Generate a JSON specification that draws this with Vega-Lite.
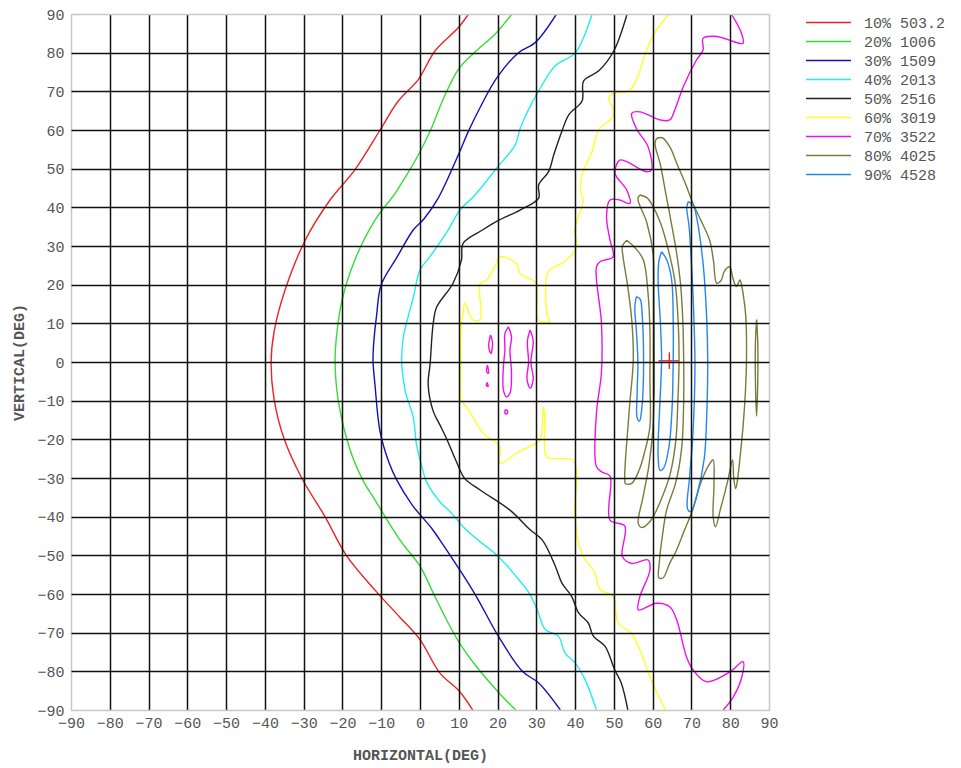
{
"$schema": "https://vega.github.io/schema/vega-lite/v6.json",
"width": 698, "height": 696,
"autosize": "none",
"padding": {"left": 71, "top": 14, "right": 192, "bottom": 58},
"background": "white",
"config": {"view": {"stroke": "#c8c8c8", "strokeWidth": 1}, "font": "Liberation Mono"},
"data": {"values": [
{"level":"10% 503.2","seg":"red","h":12.5,"v":90},{"level":"10% 503.2","seg":"red","h":9.9,"v":86.5},{"level":"10% 503.2","seg":"red","h":3.9,"v":80.5},{"level":"10% 503.2","seg":"red","h":-0.4,"v":73.1},{"level":"10% 503.2","seg":"red","h":-5.6,"v":67.5},{"level":"10% 503.2","seg":"red","h":-10.3,"v":60},{"level":"10% 503.2","seg":"red","h":-16.8,"v":49.7},{"level":"10% 503.2","seg":"red","h":-23.2,"v":41.9},{"level":"10% 503.2","seg":"red","h":-29.6,"v":31.5},{"level":"10% 503.2","seg":"red","h":-34.8,"v":18.6},{"level":"10% 503.2","seg":"red","h":-37.6,"v":8},{"level":"10% 503.2","seg":"red","h":-38.4,"v":0},{"level":"10% 503.2","seg":"red","h":-37.6,"v":-9.8},{"level":"10% 503.2","seg":"red","h":-35,"v":-20},{"level":"10% 503.2","seg":"red","h":-30.5,"v":-30},{"level":"10% 503.2","seg":"red","h":-24.5,"v":-40},{"level":"10% 503.2","seg":"red","h":-19,"v":-50},{"level":"10% 503.2","seg":"red","h":-11.6,"v":-59},{"level":"10% 503.2","seg":"red","h":-5.2,"v":-66},{"level":"10% 503.2","seg":"red","h":0,"v":-71.8},{"level":"10% 503.2","seg":"red","h":5.1,"v":-80.4},{"level":"10% 503.2","seg":"red","h":10.2,"v":-85.2},{"level":"10% 503.2","seg":"red","h":13.6,"v":-90},
{"level":"10% 503.2","seg":"rp1","h":61.5,"v":0.3},{"level":"10% 503.2","seg":"rp1","h":66.8,"v":0.3},
{"level":"10% 503.2","seg":"rp2","h":64.3,"v":2.5},{"level":"10% 503.2","seg":"rp2","h":64.3,"v":-1.8},
{"level":"20% 1006","seg":"green","h":23.7,"v":90},{"level":"20% 1006","seg":"green","h":19.4,"v":84.8},{"level":"20% 1006","seg":"green","h":14,"v":80},{"level":"20% 1006","seg":"green","h":9.9,"v":75.7},{"level":"20% 1006","seg":"green","h":6,"v":68},{"level":"20% 1006","seg":"green","h":3,"v":60.6},{"level":"20% 1006","seg":"green","h":-0.4,"v":53.6},{"level":"20% 1006","seg":"green","h":-3.9,"v":47.6},{"level":"20% 1006","seg":"green","h":-6.5,"v":43.5},{"level":"20% 1006","seg":"green","h":-11.6,"v":36.7},{"level":"20% 1006","seg":"green","h":-16.8,"v":26.4},{"level":"20% 1006","seg":"green","h":-20.1,"v":16},{"level":"20% 1006","seg":"green","h":-21.6,"v":6},{"level":"20% 1006","seg":"green","h":-21.9,"v":0},{"level":"20% 1006","seg":"green","h":-21.1,"v":-9.8},{"level":"20% 1006","seg":"green","h":-18,"v":-22.8},{"level":"20% 1006","seg":"green","h":-14.5,"v":-31},{"level":"20% 1006","seg":"green","h":-11.6,"v":-35.7},{"level":"20% 1006","seg":"green","h":-5.2,"v":-46},{"level":"20% 1006","seg":"green","h":0,"v":-52.8},{"level":"20% 1006","seg":"green","h":3.4,"v":-59.7},{"level":"20% 1006","seg":"green","h":6.8,"v":-66.6},{"level":"20% 1006","seg":"green","h":10.2,"v":-72.7},{"level":"20% 1006","seg":"green","h":14.5,"v":-78.7},{"level":"20% 1006","seg":"green","h":20.4,"v":-85.6},{"level":"20% 1006","seg":"green","h":24.7,"v":-90},
{"level":"30% 1509","seg":"blue","h":35.2,"v":90},{"level":"30% 1509","seg":"blue","h":29.7,"v":82.6},{"level":"30% 1509","seg":"blue","h":25.4,"v":80},{"level":"30% 1509","seg":"blue","h":19.8,"v":73.5},{"level":"30% 1509","seg":"blue","h":15.9,"v":66.6},{"level":"30% 1509","seg":"blue","h":12.5,"v":59.7},{"level":"30% 1509","seg":"blue","h":9.9,"v":53.6},{"level":"30% 1509","seg":"blue","h":4.7,"v":42.4},{"level":"30% 1509","seg":"blue","h":1,"v":37},{"level":"30% 1509","seg":"blue","h":-1.7,"v":34.2},{"level":"30% 1509","seg":"blue","h":-6,"v":27},{"level":"30% 1509","seg":"blue","h":-10,"v":20},{"level":"30% 1509","seg":"blue","h":-11.2,"v":12},{"level":"30% 1509","seg":"blue","h":-12,"v":4},{"level":"30% 1509","seg":"blue","h":-12.1,"v":0},{"level":"30% 1509","seg":"blue","h":-11.6,"v":-6},{"level":"30% 1509","seg":"blue","h":-10.3,"v":-18},{"level":"30% 1509","seg":"blue","h":-8,"v":-26},{"level":"30% 1509","seg":"blue","h":-6,"v":-30.5},{"level":"30% 1509","seg":"blue","h":-2,"v":-37},{"level":"30% 1509","seg":"blue","h":3,"v":-43},{"level":"30% 1509","seg":"blue","h":5.1,"v":-46},{"level":"30% 1509","seg":"blue","h":10.2,"v":-53.7},{"level":"30% 1509","seg":"blue","h":14.5,"v":-60.6},{"level":"30% 1509","seg":"blue","h":20.2,"v":-70.9},{"level":"30% 1509","seg":"blue","h":26.4,"v":-80},{"level":"30% 1509","seg":"blue","h":30.6,"v":-83},{"level":"30% 1509","seg":"blue","h":36.2,"v":-90},
{"level":"40% 2013","seg":"cyan","h":44.4,"v":90},{"level":"40% 2013","seg":"cyan","h":40.1,"v":80},{"level":"40% 2013","seg":"cyan","h":34.9,"v":76.6},{"level":"40% 2013","seg":"cyan","h":30.6,"v":70.1},{"level":"40% 2013","seg":"cyan","h":25.9,"v":60.6},{"level":"40% 2013","seg":"cyan","h":24.6,"v":56.2},{"level":"40% 2013","seg":"cyan","h":19.8,"v":50.2},{"level":"40% 2013","seg":"cyan","h":14.2,"v":43.2},{"level":"40% 2013","seg":"cyan","h":10.3,"v":39.3},{"level":"40% 2013","seg":"cyan","h":7.3,"v":34.2},{"level":"40% 2013","seg":"cyan","h":2.6,"v":27.3},{"level":"40% 2013","seg":"cyan","h":0,"v":23.8},{"level":"40% 2013","seg":"cyan","h":-1.7,"v":16.8},{"level":"40% 2013","seg":"cyan","h":-4.3,"v":6.4},{"level":"40% 2013","seg":"cyan","h":-4.7,"v":-0.6},{"level":"40% 2013","seg":"cyan","h":-3.8,"v":-7.5},{"level":"40% 2013","seg":"cyan","h":-1.7,"v":-14.5},{"level":"40% 2013","seg":"cyan","h":-0.9,"v":-21.4},{"level":"40% 2013","seg":"cyan","h":0.4,"v":-26.7},{"level":"40% 2013","seg":"cyan","h":1.7,"v":-31},{"level":"40% 2013","seg":"cyan","h":5,"v":-36},{"level":"40% 2013","seg":"cyan","h":8,"v":-39},{"level":"40% 2013","seg":"cyan","h":11.5,"v":-43},{"level":"40% 2013","seg":"cyan","h":14.9,"v":-46},{"level":"40% 2013","seg":"cyan","h":20.2,"v":-50.3},{"level":"40% 2013","seg":"cyan","h":25.5,"v":-56.3},{"level":"40% 2013","seg":"cyan","h":28.1,"v":-59.7},{"level":"40% 2013","seg":"cyan","h":30.2,"v":-64},{"level":"40% 2013","seg":"cyan","h":32.3,"v":-69.2},{"level":"40% 2013","seg":"cyan","h":35.7,"v":-70.9},{"level":"40% 2013","seg":"cyan","h":37.4,"v":-75.3},{"level":"40% 2013","seg":"cyan","h":40,"v":-77.8},{"level":"40% 2013","seg":"cyan","h":42.6,"v":-82.2},{"level":"40% 2013","seg":"cyan","h":45.5,"v":-90},
{"level":"50% 2516","seg":"black","h":53.4,"v":90},{"level":"50% 2516","seg":"black","h":50,"v":80.5},{"level":"50% 2516","seg":"black","h":46.1,"v":75.3},{"level":"50% 2516","seg":"black","h":42.2,"v":72.7},{"level":"50% 2516","seg":"black","h":41.8,"v":67.5},{"level":"50% 2516","seg":"black","h":38.4,"v":64},{"level":"50% 2516","seg":"black","h":36.6,"v":59.7},{"level":"50% 2516","seg":"black","h":34.5,"v":53.6},{"level":"50% 2516","seg":"black","h":33.2,"v":49.3},{"level":"50% 2516","seg":"black","h":30.6,"v":45.8},{"level":"50% 2516","seg":"black","h":30.6,"v":42.4},{"level":"50% 2516","seg":"black","h":25.8,"v":39.3},{"level":"50% 2516","seg":"black","h":20,"v":36.5},{"level":"50% 2516","seg":"black","h":16.2,"v":34.2},{"level":"50% 2516","seg":"black","h":11.1,"v":30.7},{"level":"50% 2516","seg":"black","h":10.7,"v":26.4},{"level":"50% 2516","seg":"black","h":8.5,"v":20.3},{"level":"50% 2516","seg":"black","h":4.3,"v":14.2},{"level":"50% 2516","seg":"black","h":3.4,"v":9.9},{"level":"50% 2516","seg":"black","h":2.6,"v":-0.6},{"level":"50% 2516","seg":"black","h":2.1,"v":-5.8},{"level":"50% 2516","seg":"black","h":3.4,"v":-12.7},{"level":"50% 2516","seg":"black","h":5.1,"v":-16.2},{"level":"50% 2516","seg":"black","h":6.8,"v":-19.7},{"level":"50% 2516","seg":"black","h":9.4,"v":-25.8},{"level":"50% 2516","seg":"black","h":11.5,"v":-30.1},{"level":"50% 2516","seg":"black","h":15.5,"v":-33.1},{"level":"50% 2516","seg":"black","h":23.2,"v":-38.3},{"level":"50% 2516","seg":"black","h":28.4,"v":-43.4},{"level":"50% 2516","seg":"black","h":31.5,"v":-46},{"level":"50% 2516","seg":"black","h":34.9,"v":-52.8},{"level":"50% 2516","seg":"black","h":36.6,"v":-57.2},{"level":"50% 2516","seg":"black","h":39.1,"v":-60.6},{"level":"50% 2516","seg":"black","h":40.9,"v":-64.9},{"level":"50% 2516","seg":"black","h":43.4,"v":-67.5},{"level":"50% 2516","seg":"black","h":44.7,"v":-70.9},{"level":"50% 2516","seg":"black","h":47.7,"v":-73.5},{"level":"50% 2516","seg":"black","h":50.2,"v":-79.6},{"level":"50% 2516","seg":"black","h":51.9,"v":-83},{"level":"50% 2516","seg":"black","h":53.6,"v":-90},
{"level":"60% 3019","seg":"yel","h":64.2,"v":90},{"level":"60% 3019","seg":"yel","h":60.3,"v":84.8},{"level":"60% 3019","seg":"yel","h":58.2,"v":80},{"level":"60% 3019","seg":"yel","h":56,"v":73.5},{"level":"60% 3019","seg":"yel","h":53.9,"v":70.1},{"level":"60% 3019","seg":"yel","h":50.4,"v":69.7},{"level":"60% 3019","seg":"yel","h":48.7,"v":68.4},{"level":"60% 3019","seg":"yel","h":50,"v":64.9},{"level":"60% 3019","seg":"yel","h":49.6,"v":63.2},{"level":"60% 3019","seg":"yel","h":46.1,"v":60.1},{"level":"60% 3019","seg":"yel","h":44.4,"v":54.5},{"level":"60% 3019","seg":"yel","h":41.8,"v":48.4},{"level":"60% 3019","seg":"yel","h":41.4,"v":44},{"level":"60% 3019","seg":"yel","h":42.1,"v":41.9},{"level":"60% 3019","seg":"yel","h":39.9,"v":34.1},{"level":"60% 3019","seg":"yel","h":40.4,"v":29.8},{"level":"60% 3019","seg":"yel","h":37.8,"v":26.4},{"level":"60% 3019","seg":"yel","h":33.5,"v":23.8},{"level":"60% 3019","seg":"yel","h":32.7,"v":22.5},{"level":"60% 3019","seg":"yel","h":32.8,"v":12},{"level":"60% 3019","seg":"yel","h":33.5,"v":10.4},{"level":"60% 3019","seg":"yel","h":30.5,"v":10.9},{"level":"60% 3019","seg":"yel","h":30.3,"v":17.4},{"level":"60% 3019","seg":"yel","h":30.1,"v":20.3},{"level":"60% 3019","seg":"yel","h":25.8,"v":22.9},{"level":"60% 3019","seg":"yel","h":24.9,"v":25.5},{"level":"60% 3019","seg":"yel","h":20.6,"v":27.2},{"level":"60% 3019","seg":"yel","h":19.5,"v":25},{"level":"60% 3019","seg":"yel","h":17,"v":21},{"level":"60% 3019","seg":"yel","h":15.5,"v":20.3},{"level":"60% 3019","seg":"yel","h":15.5,"v":10.9},{"level":"60% 3019","seg":"yel","h":13.5,"v":11},{"level":"60% 3019","seg":"yel","h":11.6,"v":15.2},{"level":"60% 3019","seg":"yel","h":11,"v":12},{"level":"60% 3019","seg":"yel","h":10.7,"v":10},{"level":"60% 3019","seg":"yel","h":10.5,"v":0},{"level":"60% 3019","seg":"yel","h":10.7,"v":-9.8},{"level":"60% 3019","seg":"yel","h":12,"v":-11.6},{"level":"60% 3019","seg":"yel","h":13.5,"v":-14},{"level":"60% 3019","seg":"yel","h":16.3,"v":-18.4},{"level":"60% 3019","seg":"yel","h":20.6,"v":-21.9},{"level":"60% 3019","seg":"yel","h":20.6,"v":-26.2},{"level":"60% 3019","seg":"yel","h":24.9,"v":-23.6},{"level":"60% 3019","seg":"yel","h":28,"v":-22},{"level":"60% 3019","seg":"yel","h":30.9,"v":-20.2},{"level":"60% 3019","seg":"yel","h":31.8,"v":-11.6},{"level":"60% 3019","seg":"yel","h":32.3,"v":-15},{"level":"60% 3019","seg":"yel","h":32.6,"v":-24.5},{"level":"60% 3019","seg":"yel","h":36,"v":-25},{"level":"60% 3019","seg":"yel","h":39.5,"v":-25.3},{"level":"60% 3019","seg":"yel","h":40.4,"v":-28.8},{"level":"60% 3019","seg":"yel","h":39.9,"v":-39.1},{"level":"60% 3019","seg":"yel","h":41.7,"v":-49.4},{"level":"60% 3019","seg":"yel","h":45.1,"v":-54.6},{"level":"60% 3019","seg":"yel","h":46.4,"v":-58.9},{"level":"60% 3019","seg":"yel","h":49.8,"v":-60.6},{"level":"60% 3019","seg":"yel","h":51.1,"v":-67.5},{"level":"60% 3019","seg":"yel","h":54.5,"v":-70.1},{"level":"60% 3019","seg":"yel","h":56.7,"v":-74.5},{"level":"60% 3019","seg":"yel","h":59.6,"v":-82.2},{"level":"60% 3019","seg":"yel","h":63.3,"v":-90},
{"level":"70% 3522","seg":"mag","h":80.3,"v":90},{"level":"70% 3522","seg":"mag","h":82.9,"v":85},{"level":"70% 3522","seg":"mag","h":83.3,"v":82.4},{"level":"70% 3522","seg":"mag","h":80.8,"v":82.9},{"level":"70% 3522","seg":"mag","h":76.5,"v":84.2},{"level":"70% 3522","seg":"mag","h":73,"v":83.7},{"level":"70% 3522","seg":"mag","h":73,"v":80.7},{"level":"70% 3522","seg":"mag","h":71.3,"v":78.1},{"level":"70% 3522","seg":"mag","h":67.9,"v":71.2},{"level":"70% 3522","seg":"mag","h":65.7,"v":65.2},{"level":"70% 3522","seg":"mag","h":64.4,"v":62.6},{"level":"70% 3522","seg":"mag","h":61.9,"v":62.6},{"level":"70% 3522","seg":"mag","h":56.7,"v":64.7},{"level":"70% 3522","seg":"mag","h":54.6,"v":64.3},{"level":"70% 3522","seg":"mag","h":55.8,"v":60.4},{"level":"70% 3522","seg":"mag","h":58.8,"v":55.7},{"level":"70% 3522","seg":"mag","h":59.7,"v":49.7},{"level":"70% 3522","seg":"mag","h":58.4,"v":49.2},{"level":"70% 3522","seg":"mag","h":53.3,"v":51.8},{"level":"70% 3522","seg":"mag","h":51.5,"v":52.2},{"level":"70% 3522","seg":"mag","h":50.3,"v":48.8},{"level":"70% 3522","seg":"mag","h":53.3,"v":44.5},{"level":"70% 3522","seg":"mag","h":54.1,"v":41},{"level":"70% 3522","seg":"mag","h":51.5,"v":41.9},{"level":"70% 3522","seg":"mag","h":49,"v":41.9},{"level":"70% 3522","seg":"mag","h":48.1,"v":37.6},{"level":"70% 3522","seg":"mag","h":49,"v":31.5},{"level":"70% 3522","seg":"mag","h":49.8,"v":27.2},{"level":"70% 3522","seg":"mag","h":46.5,"v":26},{"level":"70% 3522","seg":"mag","h":45.5,"v":24.6},{"level":"70% 3522","seg":"mag","h":46.8,"v":10},{"level":"70% 3522","seg":"mag","h":46.8,"v":-2.6},{"level":"70% 3522","seg":"mag","h":45.5,"v":-13.3},{"level":"70% 3522","seg":"mag","h":45.5,"v":-27},{"level":"70% 3522","seg":"mag","h":47,"v":-28.5},{"level":"70% 3522","seg":"mag","h":49,"v":-29.5},{"level":"70% 3522","seg":"mag","h":49,"v":-40.9},{"level":"70% 3522","seg":"mag","h":52.8,"v":-42.4},{"level":"70% 3522","seg":"mag","h":52.2,"v":-50.3},{"level":"70% 3522","seg":"mag","h":54.6,"v":-52.1},{"level":"70% 3522","seg":"mag","h":58.8,"v":-51.2},{"level":"70% 3522","seg":"mag","h":59.3,"v":-53.8},{"level":"70% 3522","seg":"mag","h":56.7,"v":-60.7},{"level":"70% 3522","seg":"mag","h":56.3,"v":-64.1},{"level":"70% 3522","seg":"mag","h":61,"v":-62.4},{"level":"70% 3522","seg":"mag","h":64.4,"v":-63.3},{"level":"70% 3522","seg":"mag","h":66.2,"v":-66.7},{"level":"70% 3522","seg":"mag","h":68.7,"v":-76.2},{"level":"70% 3522","seg":"mag","h":70.4,"v":-79.6},{"level":"70% 3522","seg":"mag","h":73.9,"v":-82.7},{"level":"70% 3522","seg":"mag","h":80,"v":-80.1},{"level":"70% 3522","seg":"mag","h":83.3,"v":-77.5},{"level":"70% 3522","seg":"mag","h":82.9,"v":-81.8},{"level":"70% 3522","seg":"mag","h":80.8,"v":-86.6},{"level":"70% 3522","seg":"mag","h":78.2,"v":-90},
{"level":"70% 3522","seg":"magA","h":22.8,"v":9.1},{"level":"70% 3522","seg":"magA","h":23.6,"v":6.5},{"level":"70% 3522","seg":"magA","h":23.2,"v":3.1},{"level":"70% 3522","seg":"magA","h":23.6,"v":-2.9},{"level":"70% 3522","seg":"magA","h":23.2,"v":-8.1},{"level":"70% 3522","seg":"magA","h":22.3,"v":-9},{"level":"70% 3522","seg":"magA","h":21.5,"v":-7.2},{"level":"70% 3522","seg":"magA","h":21.5,"v":-1.2},{"level":"70% 3522","seg":"magA","h":21.9,"v":3.1},{"level":"70% 3522","seg":"magA","h":21.9,"v":7.4},{"level":"70% 3522","seg":"magA","h":22.8,"v":9.1},
{"level":"70% 3522","seg":"magB","h":28.4,"v":8.3},{"level":"70% 3522","seg":"magB","h":29.2,"v":5.5},{"level":"70% 3522","seg":"magB","h":28.6,"v":0},{"level":"70% 3522","seg":"magB","h":29.2,"v":-4.5},{"level":"70% 3522","seg":"magB","h":28.4,"v":-6.8},{"level":"70% 3522","seg":"magB","h":27.6,"v":-4.5},{"level":"70% 3522","seg":"magB","h":28,"v":0},{"level":"70% 3522","seg":"magB","h":27.7,"v":5.5},{"level":"70% 3522","seg":"magB","h":28.4,"v":8.3},
{"level":"70% 3522","seg":"magC","h":18.2,"v":7},{"level":"70% 3522","seg":"magC","h":18.7,"v":5},{"level":"70% 3522","seg":"magC","h":18.3,"v":2.2},{"level":"70% 3522","seg":"magC","h":17.7,"v":4},{"level":"70% 3522","seg":"magC","h":18.2,"v":7},
{"level":"70% 3522","seg":"magD","h":17.4,"v":-0.8},{"level":"70% 3522","seg":"magD","h":17.7,"v":-2.9},{"level":"70% 3522","seg":"magD","h":17.2,"v":-2.5},{"level":"70% 3522","seg":"magD","h":17.4,"v":-0.8},
{"level":"70% 3522","seg":"magE","h":17.3,"v":-5.3},{"level":"70% 3522","seg":"magE","h":17.6,"v":-6.3},{"level":"70% 3522","seg":"magE","h":17.1,"v":-6},{"level":"70% 3522","seg":"magE","h":17.3,"v":-5.3},
{"level":"70% 3522","seg":"magF","h":22,"v":-12.3},{"level":"70% 3522","seg":"magF","h":22.6,"v":-12.6},{"level":"70% 3522","seg":"magF","h":22.4,"v":-13.4},{"level":"70% 3522","seg":"magF","h":21.9,"v":-13.2},{"level":"70% 3522","seg":"magF","h":22,"v":-12.3},
{"level":"80% 4025","seg":"L1","h":53.3,"v":31.5},{"level":"80% 4025","seg":"L1","h":55.5,"v":29.5},{"level":"80% 4025","seg":"L1","h":57.6,"v":26.4},{"level":"80% 4025","seg":"L1","h":58.8,"v":17.8},{"level":"80% 4025","seg":"L1","h":59.3,"v":8},{"level":"80% 4025","seg":"L1","h":59.3,"v":-5},{"level":"80% 4025","seg":"L1","h":59.3,"v":-16.7},{"level":"80% 4025","seg":"L1","h":58,"v":-23},{"level":"80% 4025","seg":"L1","h":56.5,"v":-28},{"level":"80% 4025","seg":"L1","h":54.6,"v":-31.4},{"level":"80% 4025","seg":"L1","h":53,"v":-31.5},{"level":"80% 4025","seg":"L1","h":52.8,"v":-30},{"level":"80% 4025","seg":"L1","h":53,"v":-25},{"level":"80% 4025","seg":"L1","h":53.3,"v":-21},{"level":"80% 4025","seg":"L1","h":54.1,"v":-10.7},{"level":"80% 4025","seg":"L1","h":55,"v":0.5},{"level":"80% 4025","seg":"L1","h":54.6,"v":10.9},{"level":"80% 4025","seg":"L1","h":53.5,"v":20},{"level":"80% 4025","seg":"L1","h":52.4,"v":27},{"level":"80% 4025","seg":"L1","h":52.2,"v":30},{"level":"80% 4025","seg":"L1","h":53.3,"v":31.5},
{"level":"80% 4025","seg":"L2","h":56.7,"v":43.2},{"level":"80% 4025","seg":"L2","h":58.5,"v":42.5},{"level":"80% 4025","seg":"L2","h":60.1,"v":40.2},{"level":"80% 4025","seg":"L2","h":62,"v":36},{"level":"80% 4025","seg":"L2","h":63.6,"v":30.7},{"level":"80% 4025","seg":"L2","h":65.7,"v":21.2},{"level":"80% 4025","seg":"L2","h":66.6,"v":10},{"level":"80% 4025","seg":"L2","h":66.8,"v":0},{"level":"80% 4025","seg":"L2","h":66.5,"v":-10},{"level":"80% 4025","seg":"L2","h":66,"v":-20},{"level":"80% 4025","seg":"L2","h":64.5,"v":-29},{"level":"80% 4025","seg":"L2","h":62,"v":-36},{"level":"80% 4025","seg":"L2","h":59.5,"v":-41},{"level":"80% 4025","seg":"L2","h":57.3,"v":-42.8},{"level":"80% 4025","seg":"L2","h":56.3,"v":-41.8},{"level":"80% 4025","seg":"L2","h":57.5,"v":-35},{"level":"80% 4025","seg":"L2","h":59,"v":-27},{"level":"80% 4025","seg":"L2","h":60,"v":-18},{"level":"80% 4025","seg":"L2","h":60.4,"v":-8},{"level":"80% 4025","seg":"L2","h":60.4,"v":5},{"level":"80% 4025","seg":"L2","h":60.3,"v":18},{"level":"80% 4025","seg":"L2","h":60.1,"v":28},{"level":"80% 4025","seg":"L2","h":58.5,"v":36},{"level":"80% 4025","seg":"L2","h":56.2,"v":42.2},{"level":"80% 4025","seg":"L2","h":56.7,"v":43.2},
{"level":"80% 4025","seg":"L3","h":61,"v":57.8},{"level":"80% 4025","seg":"L3","h":62.5,"v":58},{"level":"80% 4025","seg":"L3","h":64.5,"v":55.5},{"level":"80% 4025","seg":"L3","h":66.2,"v":51.4},{"level":"80% 4025","seg":"L3","h":68.5,"v":46},{"level":"80% 4025","seg":"L3","h":70.4,"v":41},{"level":"80% 4025","seg":"L3","h":72.5,"v":36.5},{"level":"80% 4025","seg":"L3","h":74.7,"v":31.5},{"level":"80% 4025","seg":"L3","h":75.7,"v":26},{"level":"80% 4025","seg":"L3","h":76.5,"v":20.4},{"level":"80% 4025","seg":"L3","h":77.6,"v":21},{"level":"80% 4025","seg":"L3","h":78.5,"v":23.5},{"level":"80% 4025","seg":"L3","h":79.9,"v":24.6},{"level":"80% 4025","seg":"L3","h":80.6,"v":22},{"level":"80% 4025","seg":"L3","h":81.6,"v":19.5},{"level":"80% 4025","seg":"L3","h":82.5,"v":21.2},{"level":"80% 4025","seg":"L3","h":83,"v":19.5},{"level":"80% 4025","seg":"L3","h":83.3,"v":17.8},{"level":"80% 4025","seg":"L3","h":84,"v":12},{"level":"80% 4025","seg":"L3","h":84.2,"v":0.5},{"level":"80% 4025","seg":"L3","h":83.9,"v":-8},{"level":"80% 4025","seg":"L3","h":83.3,"v":-16.7},{"level":"80% 4025","seg":"L3","h":82.5,"v":-25},{"level":"80% 4025","seg":"L3","h":81.8,"v":-31},{"level":"80% 4025","seg":"L3","h":81.4,"v":-32.7},{"level":"80% 4025","seg":"L3","h":80.9,"v":-30},{"level":"80% 4025","seg":"L3","h":80.6,"v":-25.3},{"level":"80% 4025","seg":"L3","h":79.3,"v":-31},{"level":"80% 4025","seg":"L3","h":77.5,"v":-38},{"level":"80% 4025","seg":"L3","h":76.2,"v":-42.6},{"level":"80% 4025","seg":"L3","h":75.6,"v":-40},{"level":"80% 4025","seg":"L3","h":75.8,"v":-32},{"level":"80% 4025","seg":"L3","h":75.6,"v":-25.3},{"level":"80% 4025","seg":"L3","h":74.6,"v":-26.5},{"level":"80% 4025","seg":"L3","h":72.5,"v":-31},{"level":"80% 4025","seg":"L3","h":70.4,"v":-38},{"level":"80% 4025","seg":"L3","h":68,"v":-44},{"level":"80% 4025","seg":"L3","h":66,"v":-49},{"level":"80% 4025","seg":"L3","h":64.4,"v":-52},{"level":"80% 4025","seg":"L3","h":62.7,"v":-55.8},{"level":"80% 4025","seg":"L3","h":61.6,"v":-55.8},{"level":"80% 4025","seg":"L3","h":61.7,"v":-52},{"level":"80% 4025","seg":"L3","h":62.5,"v":-45},{"level":"80% 4025","seg":"L3","h":63.6,"v":-38.3},{"level":"80% 4025","seg":"L3","h":66,"v":-31},{"level":"80% 4025","seg":"L3","h":67.5,"v":-22},{"level":"80% 4025","seg":"L3","h":68,"v":-10},{"level":"80% 4025","seg":"L3","h":68,"v":0},{"level":"80% 4025","seg":"L3","h":67.8,"v":10},{"level":"80% 4025","seg":"L3","h":67.2,"v":20},{"level":"80% 4025","seg":"L3","h":66.2,"v":28},{"level":"80% 4025","seg":"L3","h":64.8,"v":36},{"level":"80% 4025","seg":"L3","h":63.3,"v":44},{"level":"80% 4025","seg":"L3","h":62,"v":51},{"level":"80% 4025","seg":"L3","h":60.6,"v":56.5},{"level":"80% 4025","seg":"L3","h":61,"v":57.8},
{"level":"80% 4025","seg":"L4","h":86.8,"v":11},{"level":"80% 4025","seg":"L4","h":87.1,"v":5},{"level":"80% 4025","seg":"L4","h":87.1,"v":-5},{"level":"80% 4025","seg":"L4","h":86.8,"v":-14},{"level":"80% 4025","seg":"L4","h":86.5,"v":-5},{"level":"80% 4025","seg":"L4","h":86.5,"v":5},{"level":"80% 4025","seg":"L4","h":86.8,"v":11},
{"level":"90% 4528","seg":"B1","h":55.8,"v":16.9},{"level":"90% 4528","seg":"B1","h":56.8,"v":16.2},{"level":"90% 4528","seg":"B1","h":57.3,"v":12},{"level":"90% 4528","seg":"B1","h":57.6,"v":5},{"level":"90% 4528","seg":"B1","h":57.6,"v":-5},{"level":"90% 4528","seg":"B1","h":57.2,"v":-12},{"level":"90% 4528","seg":"B1","h":56.6,"v":-15.3},{"level":"90% 4528","seg":"B1","h":56,"v":-14.5},{"level":"90% 4528","seg":"B1","h":56,"v":-8},{"level":"90% 4528","seg":"B1","h":56.2,"v":0},{"level":"90% 4528","seg":"B1","h":55.8,"v":8},{"level":"90% 4528","seg":"B1","h":55.4,"v":14.3},{"level":"90% 4528","seg":"B1","h":55.8,"v":16.9},
{"level":"90% 4528","seg":"B2","h":62.3,"v":28.5},{"level":"90% 4528","seg":"B2","h":63.6,"v":26.5},{"level":"90% 4528","seg":"B2","h":64.9,"v":21.2},{"level":"90% 4528","seg":"B2","h":65.3,"v":10},{"level":"90% 4528","seg":"B2","h":65.3,"v":0.5},{"level":"90% 4528","seg":"B2","h":65,"v":-12},{"level":"90% 4528","seg":"B2","h":64.2,"v":-22},{"level":"90% 4528","seg":"B2","h":62.8,"v":-27.5},{"level":"90% 4528","seg":"B2","h":61.9,"v":-28},{"level":"90% 4528","seg":"B2","h":61.4,"v":-24},{"level":"90% 4528","seg":"B2","h":61.8,"v":-12},{"level":"90% 4528","seg":"B2","h":62.3,"v":0.5},{"level":"90% 4528","seg":"B2","h":62,"v":10},{"level":"90% 4528","seg":"B2","h":61.4,"v":21.2},{"level":"90% 4528","seg":"B2","h":61.6,"v":26},{"level":"90% 4528","seg":"B2","h":62.3,"v":28.5},
{"level":"90% 4528","seg":"B3","h":69.2,"v":41.5},{"level":"90% 4528","seg":"B3","h":70.5,"v":40.5},{"level":"90% 4528","seg":"B3","h":71.3,"v":37.6},{"level":"90% 4528","seg":"B3","h":73,"v":25.5},{"level":"90% 4528","seg":"B3","h":73.9,"v":12},{"level":"90% 4528","seg":"B3","h":74.2,"v":0.5},{"level":"90% 4528","seg":"B3","h":74,"v":-12},{"level":"90% 4528","seg":"B3","h":73.3,"v":-25},{"level":"90% 4528","seg":"B3","h":71.5,"v":-34},{"level":"90% 4528","seg":"B3","h":69.8,"v":-38.7},{"level":"90% 4528","seg":"B3","h":69,"v":-38},{"level":"90% 4528","seg":"B3","h":69.5,"v":-30},{"level":"90% 4528","seg":"B3","h":70.3,"v":-20},{"level":"90% 4528","seg":"B3","h":70.8,"v":-8},{"level":"90% 4528","seg":"B3","h":70.9,"v":0.5},{"level":"90% 4528","seg":"B3","h":70.5,"v":15},{"level":"90% 4528","seg":"B3","h":70,"v":25.5},{"level":"90% 4528","seg":"B3","h":69.4,"v":35},{"level":"90% 4528","seg":"B3","h":68.8,"v":40},{"level":"90% 4528","seg":"B3","h":69.2,"v":41.5}
]},
"mark": {"type": "line", "strokeWidth": 1.4, "interpolate": "catmull-rom", "clip": true},
"encoding": {
"x": {"field": "h", "type": "quantitative", "scale": {"domain": [-90, 90], "nice": false, "zero": false},
 "axis": {"values": [-90,-80,-70,-60,-50,-40,-30,-20,-10,0,10,20,30,40,50,60,70,80,90], "zindex": 1, "grid": true,
  "gridColor": {"condition": {"test": "abs(datum.value) >= 90", "value": "#c8c8c8"}, "value": "#111111"}, "gridWidth": 1.5, "gridOpacity": 1,
  "domain": false, "ticks": false, "labelFont": "Liberation Mono", "labelFontSize": 15, "labelColor": "#555555", "labelPadding": 5, "labelFlush": false, "labelOverlap": false,
  "title": "HORIZONTAL(DEG)", "titleFont": "Liberation Mono", "titleFontSize": 15, "titleFontWeight": "bold", "titleColor": "#555555", "titlePadding": 17}},
"y": {"field": "v", "type": "quantitative", "scale": {"domain": [-90, 90], "nice": false, "zero": false},
 "axis": {"values": [-90,-80,-70,-60,-50,-40,-30,-20,-10,0,10,20,30,40,50,60,70,80,90], "zindex": 1, "grid": true,
  "gridColor": {"condition": {"test": "abs(datum.value) >= 90", "value": "#c8c8c8"}, "value": "#111111"}, "gridWidth": 1.5, "gridOpacity": 1,
  "domain": false, "ticks": false, "labelFont": "Liberation Mono", "labelFontSize": 15, "labelColor": "#555555", "labelPadding": 7, "labelFlush": false, "labelOverlap": false,
  "title": "VERTICAL(DEG)", "titleFont": "Liberation Mono", "titleFontSize": 15, "titleFontWeight": "bold", "titleColor": "#555555", "titlePadding": 10}},
"color": {"field": "level", "type": "nominal",
 "scale": {"domain": ["10% 503.2","20% 1006","30% 1509","40% 2013","50% 2516","60% 3019","70% 3522","80% 4025","90% 4528"],
  "range": ["#ee2222","#33dd33","#1111bb","#22eeee","#222222","#ffff22","#ee11ee","#7a7a3a","#2288ee"]},
 "legend": {"orient": "none", "legendX": 750, "legendY": 1, "title": null, "symbolType": "M-5,0H5", "symbolSize": 81, "symbolStrokeWidth": 1.5,
  "labelFont": "Liberation Mono", "labelFontSize": 15, "labelColor": "#555555", "labelOffset": 28, "rowPadding": 3, "padding": 0}},
"detail": {"field": "seg"},
"order": {"value": null}
}
}
